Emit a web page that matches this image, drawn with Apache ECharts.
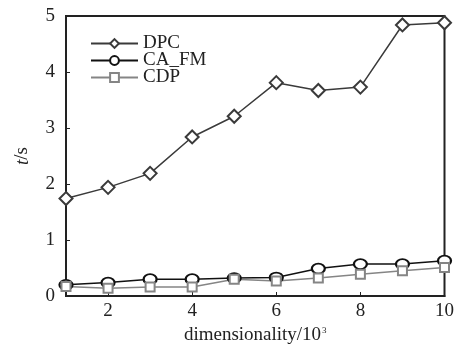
<!DOCTYPE html>
<html>
<head>
<meta charset="utf-8">
<script src="https://cdn.jsdelivr.net/npm/echarts@6/dist/echarts.min.js"></script>
<style>
  html, body { margin: 0; padding: 0; background: #fff; }
  #chart { width: 457px; height: 353px; }
</style>
</head>
<body>
<div id="chart"></div>
<script>
  // dimensionality (x 10^3)
  const dims = [1, 2, 3, 4, 5, 6, 7, 8, 9, 10]
  const xTicks = [2, 4, 6, 8, 10]
  const yTicks = [0, 1, 2, 3, 4, 5]
  // run time, seconds
  const dpc = [1.74, 1.94, 2.19, 2.84, 3.21, 3.81, 3.67, 3.73, 4.84, 4.88]
  const caFm = [0.20, 0.24, 0.30, 0.30, 0.32, 0.33, 0.49, 0.57, 0.57, 0.63]
  const cdp = [0.17, 0.14, 0.16, 0.16, 0.30, 0.27, 0.32, 0.39, 0.45, 0.51]

  const font = '"Liberation Serif", "Times New Roman", serif'
  const pairs = arr => dims.map((d, i) => [d, arr[i]])

  const chart = echarts.init(document.getElementById('chart'))

  chart.setOption({
    animation: false,
    backgroundColor: '#fff',
    grid: {
      left: 66, right: 12, top: 16, bottom: 57,
      show: true,
      borderColor: '#222',
      borderWidth: 2
    },
    legend: {
      left: 90,
      top: 34,
      padding: 0,
      orient: 'vertical',
      itemWidth: 47,
      itemHeight: 11,
      itemGap: -2,
      textStyle: { fontFamily: font, fontSize: 19, lineHeight: 15, color: '#222' },
      data: ['DPC', 'CA_FM', 'CDP']
    },
    xAxis: {
      type: 'value',
      min: 1,
      max: 10,
      name: '{a|dimensionality/10}{s|3}',
      nameLocation: 'middle',
      nameGap: 26,
      nameTextStyle: {
        rich: {
          a: { fontFamily: font, fontSize: 19, color: '#222' },
          s: { fontFamily: font, fontSize: 9, color: '#222', verticalAlign: 'top', padding: [0, 0, 10, 1] }
        }
      },
      axisLine: { lineStyle: { color: '#222', width: 2 } },
      axisTick: { inside: true, length: 4, customValues: xTicks, lineStyle: { color: '#222' } },
      axisLabel: { customValues: xTicks, fontFamily: font, fontSize: 19, color: '#222', margin: 6 },
      splitLine: { show: false }
    },
    yAxis: {
      type: 'value',
      min: 0,
      max: 5,
      interval: 1,
      name: '{i|t}{a|/s}',
      nameLocation: 'middle',
      nameGap: 34,
      nameTextStyle: {
        rich: {
          i: { fontFamily: font, fontSize: 19, fontStyle: 'italic', color: '#222' },
          a: { fontFamily: font, fontSize: 19, color: '#222' }
        }
      },
      axisLine: { lineStyle: { color: '#222', width: 2 } },
      axisTick: { inside: true, length: 4, lineStyle: { color: '#222' } },
      axisLabel: { fontFamily: font, fontSize: 19, color: '#222', margin: 11 },
      splitLine: { show: false }
    },
    series: [
      {
        name: 'DPC',
        type: 'line',
        data: pairs(dpc),
        symbol: 'emptyDiamond',
        symbolSize: 13,
        color: '#3a3a3a',
        lineStyle: { width: 1.5, color: '#3a3a3a' },
        itemStyle: { borderWidth: 1.5 }
      },
      {
        name: 'CA_FM',
        type: 'line',
        data: pairs(caFm),
        symbol: 'emptyCircle',
        symbolSize: [13, 10],
        color: '#111',
        lineStyle: { width: 1.5, color: '#111' },
        itemStyle: { borderWidth: 1.5 }
      },
      {
        name: 'CDP',
        type: 'line',
        data: pairs(cdp),
        symbol: 'emptyRect',
        symbolSize: 9,
        color: '#858585',
        lineStyle: { width: 1.5, color: '#858585' },
        itemStyle: { borderWidth: 1.5 }
      }
    ]
  })
</script>
</body>
</html>
